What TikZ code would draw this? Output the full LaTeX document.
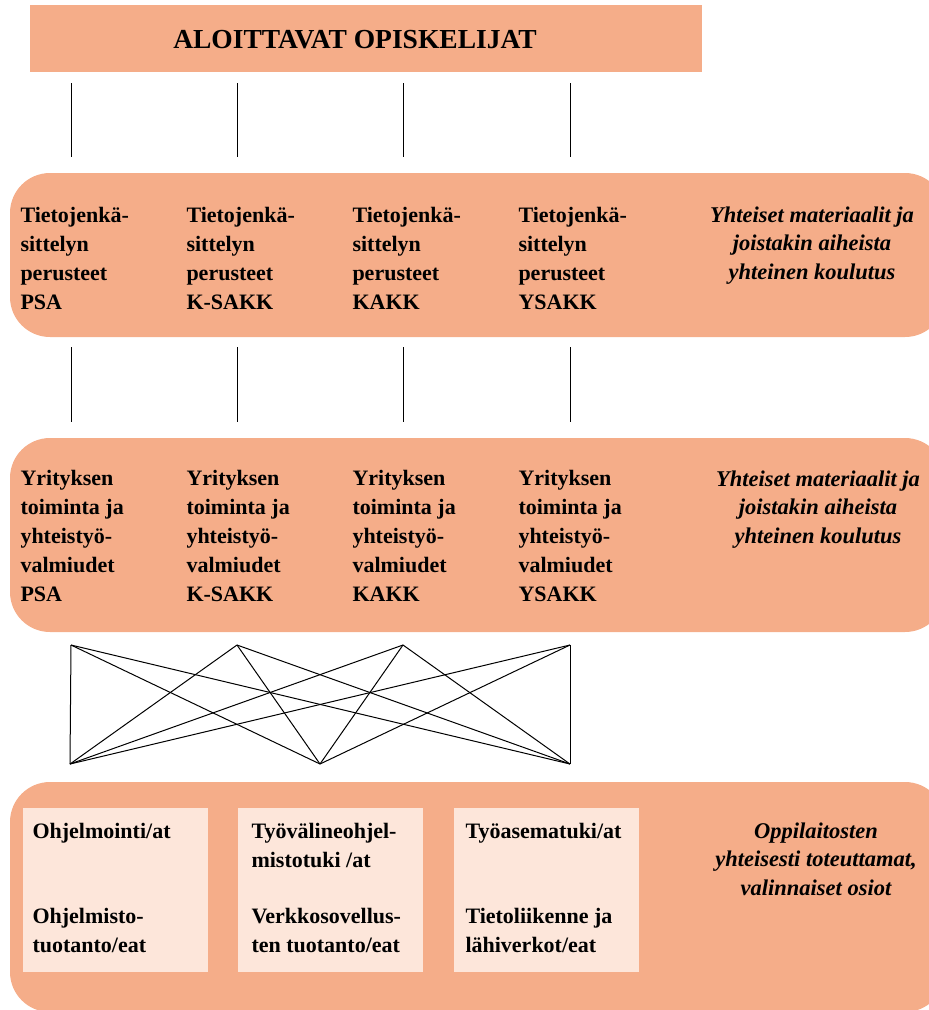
\documentclass[tikz,border=0pt]{standalone}
\usepackage{fontspec}
\setmainfont{Liberation Serif}
\definecolor{salmon}{HTML}{F5AD89}
\definecolor{pale}{HTML}{FDE6DA}
\tikzset{
  band/.style={fill=salmon, rounded corners=40pt, inner sep=0pt},
  cell/.style={fill=pale, inner sep=0pt, minimum width=185pt, minimum height=164pt},
  coltext/.style={anchor=north west, inner sep=0pt, align=left,
    font=\fontsize{22}{29}\selectfont\bfseries},
  note/.style={anchor=north, inner sep=0pt, align=center,
    font=\fontsize{22.5}{28.5}\selectfont\bfseries\itshape},
}
\begin{document}
\begin{tikzpicture}[x=1pt,y=-1pt,line width=1pt]
  \useasboundingbox (0,0) rectangle (929,1010);
  \clip (0,0) rectangle (929,1010);
  % top bar
  \node[fill=salmon, inner sep=0pt, minimum width=672pt, minimum height=67pt] (start) at (366,38.5) {};
  \node[inner sep=0pt, font=\fontsize{27.5}{30}\selectfont\bfseries] (title) at (355,40) {ALOITTAVAT OPISKELIJAT};
  % bands
  \node[band, minimum width=935pt, minimum height=164pt] (tier1) at (477.5,255) {};
  \node[band, minimum width=935pt, minimum height=194pt] (tier2) at (477.5,535) {};
  \node[band, minimum width=935pt, minimum height=230pt] (tier3) at (477.5,897) {};
  % first tier
  \node[coltext] (psa1) at (20,207) {Tietojenkä-\\sittelyn\\perusteet\\PSA};
  \node[coltext] (ksakk1) at (186,207) {Tietojenkä-\\sittelyn\\perusteet\\K-SAKK};
  \node[coltext] (kakk1) at (352,207) {Tietojenkä-\\sittelyn\\perusteet\\KAKK};
  \node[coltext] (ysakk1) at (518,207) {Tietojenkä-\\sittelyn\\perusteet\\YSAKK};
  \node[note] (common1) at (812,206) {Yhteiset materiaalit ja\\joistakin aiheista\\yhteinen koulutus};
  % second tier
  \node[coltext] (psa2) at (20,470) {Yrityksen\\toiminta ja\\yhteistyö-\\valmiudet\\PSA};
  \node[coltext] (ksakk2) at (186,470) {Yrityksen\\toiminta ja\\yhteistyö-\\valmiudet\\K-SAKK};
  \node[coltext] (kakk2) at (352,470) {Yrityksen\\toiminta ja\\yhteistyö-\\valmiudet\\KAKK};
  \node[coltext] (ysakk2) at (518,470) {Yrityksen\\toiminta ja\\yhteistyö-\\valmiudet\\YSAKK};
  \node[note] (common2) at (818,470) {Yhteiset materiaalit ja\\joistakin aiheista\\yhteinen koulutus};
  % third tier
  \node[cell] (cella) at (115.5,890) {};
  \node[cell] (cellb) at (330,890) {};
  \node[cell] (cellc) at (546.5,890) {};
  \node[coltext] (prog) at (32,823) {Ohjelmointi/at};
  \node[coltext] (swprod) at (32,908) {Ohjelmisto-\\tuotanto/eat};
  \node[coltext] (tools) at (251,823) {Työvälineohjel-\\mistotuki /at};
  \node[coltext] (webprod) at (251,908) {Verkkosovellus-\\ten tuotanto/eat};
  \node[coltext] (support) at (465,823) {Työasematuki/at};
  \node[coltext] (lan) at (465,908) {Tietoliikenne ja\\lähiverkot/eat};
  \node[note] (optional) at (816,822) {Oppilaitosten\\yhteisesti toteuttamat,\\valinnaiset osiot};
  % line ends
  \coordinate (a1) at (71,83);  \coordinate (b1) at (71,157);
  \coordinate (a2) at (237,83); \coordinate (b2) at (237,157);
  \coordinate (a3) at (403,83); \coordinate (b3) at (403,157);
  \coordinate (a4) at (570,83); \coordinate (b4) at (570,157);
  \coordinate (c1) at (71,347);  \coordinate (d1) at (71,422);
  \coordinate (c2) at (237,347); \coordinate (d2) at (237,422);
  \coordinate (c3) at (403,347); \coordinate (d3) at (403,422);
  \coordinate (c4) at (570,347); \coordinate (d4) at (570,422);
  \coordinate (t1) at (71,645);
  \coordinate (t2) at (237,645);
  \coordinate (t3) at (403,645);
  \coordinate (t4) at (570,645);
  \coordinate (u1) at (70,764);
  \coordinate (u2) at (320,764);
  \coordinate (u3) at (570,764);
  \begin{scope}[-]
    \draw (a1) to (b1);
    \draw (a2) to (b2);
    \draw (a3) to (b3);
    \draw (a4) to (b4);
    \draw (c1) to (d1);
    \draw (c2) to (d2);
    \draw (c3) to (d3);
    \draw (c4) to (d4);
    \draw (t1) to (u1);
    \draw (t1) to (u2);
    \draw (t1) to (u3);
    \draw (t2) to (u1);
    \draw (t2) to (u2);
    \draw (t2) to (u3);
    \draw (t3) to (u1);
    \draw (t3) to (u2);
    \draw (t3) to (u3);
    \draw (t4) to (u1);
    \draw (t4) to (u2);
    \draw (t4) to (u3);
  \end{scope}
\end{tikzpicture}
\end{document}
